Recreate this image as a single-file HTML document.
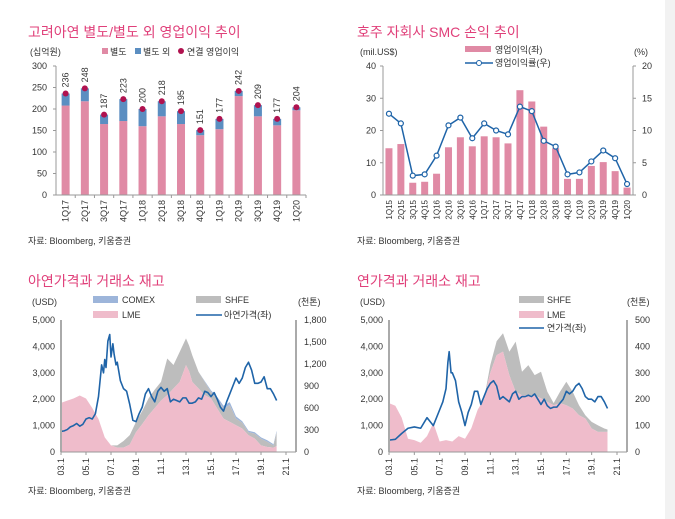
<!DOCTYPE html>
<html><head><meta charset="utf-8">
<style>
body{margin:0;background:#fff;width:675px;height:519px;overflow:hidden;font-family:"Liberation Sans","Noto Sans CJK KR",sans-serif;}
svg{position:absolute;left:0;top:0}
text{font-family:"Liberation Sans","Noto Sans CJK KR",sans-serif;fill:#333}
</style></head>
<body>
<svg id="s" width="675" height="519" xmlns="http://www.w3.org/2000/svg">
<rect x="0" y="0" width="675" height="519" fill="#fff"/>
<rect x="665" y="0" width="10" height="519" fill="#f2f2f2"/>
<text x="28" y="37" font-size="14" style="fill:#e0407a">고려아연 별도/별도 외 영업이익 추이</text>
<text x="357" y="37" font-size="14" style="fill:#e0407a">호주 자회사 SMC 손익 추이</text>
<text x="28" y="286" font-size="14" style="fill:#e0407a">아연가격과 거래소 재고</text>
<text x="357" y="286" font-size="14" style="fill:#e0407a">연가격과 거래소 재고</text>
<text x="28" y="244" font-size="9">자료: Bloomberg, 키움증권</text>
<text x="357" y="244" font-size="9">자료: Bloomberg, 키움증권</text>
<text x="28" y="494" font-size="9">자료: Bloomberg, 키움증권</text>
<text x="357" y="494" font-size="9">자료: Bloomberg, 키움증권</text>
</svg>
<script>
// ---- Chart 1 data
const c1Cats=["1Q17","2Q17","3Q17","4Q17","1Q18","2Q18","3Q18","4Q18","1Q19","2Q19","3Q19","4Q19","1Q20"];
const c1Sep=[208,218,165,172,160,183,165,139,153,230,183,162,197];
const c1Other=[28,30,22,51,40,35,30,12,24,12,26,15,7];
const c1Total=[236,248,187,223,200,218,195,151,177,242,209,177,204];
const c1Ticks=[0,50,100,150,200,250,300];
// ---- Chart 2 data
const c2Cats=["1Q15","2Q15","3Q15","4Q15","1Q16","2Q16","3Q16","4Q16","1Q17","2Q17","3Q17","4Q17","1Q18","2Q18","3Q18","4Q18","1Q19","2Q19","3Q19","4Q19","1Q20"];
const c2Profit=[14.5,15.8,3.8,4.1,6.6,14.8,17.9,15.1,18.2,17.9,16.0,32.5,29.0,21.2,14.5,5.0,5.0,9.0,10.2,7.4,2.3];
const c2Margin=[12.6,11.1,3.0,3.2,6.1,10.8,12.0,8.8,11.1,10.0,9.4,13.7,13.0,8.4,7.5,3.2,3.5,5.2,6.9,5.7,1.7];
const c2LTicks=[0,10,20,30,40];
const c2RTicks=[0,5,10,15,20];
// ---- Chart 3 data (zinc)
const c3PriceT=[2003,2003.25,2003.5,2003.75,2004,2004.25,2004.5,2004.75,2005,2005.25,2005.5,2005.75,2006,2006.25,2006.4,2006.5,2006.6,2006.75,2006.9,2007,2007.15,2007.25,2007.4,2007.5,2007.75,2008,2008.25,2008.5,2008.75,2009,2009.25,2009.5,2009.75,2010,2010.25,2010.5,2010.75,2011,2011.25,2011.5,2011.75,2012,2012.25,2012.5,2012.75,2013,2013.25,2013.5,2013.75,2014,2014.25,2014.5,2014.75,2015,2015.25,2015.5,2015.75,2016,2016.25,2016.5,2016.75,2017,2017.25,2017.5,2017.75,2018,2018.25,2018.5,2018.75,2019,2019.25,2019.5,2019.75,2020,2020.25];
const c3Price=[780,800,850,950,1000,1080,980,1050,1250,1300,1250,1450,2100,3300,3000,3500,3200,4200,4450,3600,4100,3700,3300,3400,2700,2400,2300,1800,1200,1150,1450,1700,2200,2400,2100,1900,2300,2450,2300,2400,1900,2000,1950,1900,2050,2050,1850,1850,1900,2050,2000,2300,2250,2100,2250,2000,1700,1550,1900,2200,2500,2800,2600,2800,3200,3400,3100,2600,2600,2650,2850,2400,2400,2200,1950];
const c3InvT=[2003,2003.5,2004,2004.5,2005,2005.5,2006,2006.5,2007,2007.5,2008,2008.5,2009,2009.5,2010,2010.5,2011,2011.5,2012,2012.5,2013,2013.25,2013.5,2014,2014.5,2015,2015.5,2016,2016.5,2017,2017.5,2018,2018.5,2019,2019.5,2020,2020.25];
const c3LME=[670,700,730,770,730,600,450,200,90,60,60,100,270,380,500,600,700,775,866,957,1185,1100,957,866,775,730,592,455,410,365,320,228,182,91,68,60,80];
const c3SHFE=[0,0,0,0,0,0,0,0,0,30,90,130,140,180,230,250,257,500,320,410,365,350,363,228,182,90,128,135,230,90,80,42,68,89,72,30,190];
const c3COMEX=[0,0,0,0,0,0,0,0,0,0,0,0,0,0,0,0,0,0,0,0,0,0,0,0,10,20,30,40,40,30,20,20,20,20,20,15,20];
const c3LTicks=[0,1000,2000,3000,4000,5000];
const c3RTicks=[0,300,600,900,1200,1500,1800];
const xTickLabels=["03.1","05.1","07.1","09.1","11.1","13.1","15.1","17.1","19.1","21.1"];
const xTickYears=[2003,2005,2007,2009,2011,2013,2015,2017,2019,2021];
// ---- Chart 4 data (lead)
const c4PriceT=[2003,2003.5,2004,2004.5,2005,2005.5,2006,2006.5,2007,2007.25,2007.5,2007.65,2007.75,2007.9,2008,2008.25,2008.5,2008.75,2009,2009.25,2009.5,2009.75,2010,2010.25,2010.5,2010.75,2011,2011.25,2011.5,2011.75,2012,2012.25,2012.5,2012.75,2013,2013.25,2013.5,2013.75,2014,2014.25,2014.5,2014.75,2015,2015.25,2015.5,2015.75,2016,2016.25,2016.5,2016.75,2017,2017.25,2017.5,2017.75,2018,2018.25,2018.5,2018.75,2019,2019.25,2019.5,2019.75,2020,2020.25];
const c4Price=[450,480,700,900,950,900,1300,1000,1600,1900,2400,3400,3800,3000,3000,2700,1900,1500,1000,1500,1800,2300,2300,1800,2100,2400,2600,2700,2500,2000,2100,2000,1900,2200,2300,2000,2100,2100,2150,2100,2200,2000,1800,2000,1750,1650,1700,1700,1850,2000,2300,2200,2300,2500,2600,2400,2100,2000,2000,1900,2100,2100,1900,1650];
const c4InvT=[2003,2003.5,2004,2004.5,2005,2005.5,2006,2006.5,2007,2007.5,2008,2008.5,2009,2009.5,2010,2010.5,2011,2011.5,2012,2012.5,2013,2013.5,2014,2014.5,2015,2015.5,2016,2016.5,2017,2017.5,2018,2018.5,2019,2019.5,2020,2020.25];
const c4LME=[185,175,130,50,45,35,60,110,40,45,40,60,50,90,160,200,300,367,380,291,228,215,215,215,203,190,177,185,177,165,139,127,89,76,76,76];
const c4SHFE=[0,0,0,0,0,0,0,0,0,0,0,0,0,0,0,0,30,53,70,89,190,89,114,76,101,38,8,43,89,63,38,12,25,25,13,9];
const c4LTicks=[0,1000,2000,3000,4000,5000];
const c4RTicks=[0,100,200,300,400,500];

const NS="http://www.w3.org/2000/svg";
const svg=document.getElementById('s');
function el(tag,attrs,parent){const e=document.createElementNS(NS,tag);for(const k in attrs)e.setAttribute(k,attrs[k]);(parent||svg).appendChild(e);return e;}
function txt(x,y,s,size,anchor,extra){const t=el('text',Object.assign({x:x,y:y,'font-size':size,'text-anchor':anchor||'start'},extra||{}));t.textContent=s;return t;}

// ========== Chart 1
(function(){
const x0=56,x1=306,yTop=66,yBot=195,n=c1Cats.length,step=(x1-x0)/n;
const y=v=>yBot-(v/300)*(yBot-yTop);
const xc=i=>x0+step*(i+0.5);
const g=el('g',{});


c1Ticks.forEach(v=>{const t=txt(47,y(v)+3,String(v),9,'end');
 el('line',{x1:x0-3,x2:x0,y1:y(v),y2:y(v),stroke:'#999'},g);});
c1Cats.forEach((c,i)=>{
 const bw=8,x=xc(i)-bw/2;
 const b1=el('rect',{x:x,y:y(c1Sep[i]),width:bw,height:yBot-y(c1Sep[i]),fill:'#e08aa5'},g);
 
 
 const b2=el('rect',{x:x,y:y(c1Sep[i]+c1Other[i]),width:bw,height:y(c1Sep[i])-y(c1Sep[i]+c1Other[i]),fill:'#5b8ec1'},g);
 
 
 const d=el('circle',{cx:xc(i),cy:y(c1Total[i]),r:3,fill:'#b0124f'},g);
 
 
 const lx=xc(i)+3,ly=y(c1Total[i])-6;
 const vl=txt(lx,ly,String(c1Total[i]),9,'start',{transform:`rotate(-90 ${lx} ${ly})`});
 
 
 const cx=xc(i)+3,cy=200;
 const cl=txt(cx,cy,c,9,'end',{transform:`rotate(-90 ${cx} ${cy})`});
 
 
 el('line',{x1:x0+step*(i+1),x2:x0+step*(i+1),y1:yBot,y2:yBot+3,stroke:'#999'},g);
});
el('line',{x1:x0,x2:x0,y1:yTop,y2:yBot,stroke:'#999'},g);
el('line',{x1:x0,x2:x1,y1:yBot,y2:yBot,stroke:'#999'},g);
txt(30,55,'(십억원)',9);
el('rect',{x:102,y:48,width:6,height:6,fill:'#e08aa5'});txt(110,55,'별도',9);
el('rect',{x:135,y:48,width:6,height:6,fill:'#5b8ec1'});txt(143,55,'별도 외',9);
el('circle',{cx:181,cy:51,r:3,fill:'#b0124f'});txt(187,55,'연결 영업이익',9);
})();

// ========== Chart 2
(function(){
const x0=383,x1=633,yTop=66,yBot=195,n=c2Cats.length,step=(x1-x0)/n;
const yl=v=>yBot-(v/40)*(yBot-yTop), yr=v=>yBot-(v/20)*(yBot-yTop);
const xc=i=>x0+step*(i+0.5);
const g=el('g',{});


c2LTicks.forEach(v=>{txt(376,yl(v)+3,String(v),9,'end');el('line',{x1:x0-3,x2:x0,y1:yl(v),y2:yl(v),stroke:'#999'},g);});
c2RTicks.forEach(v=>{txt(642,yr(v)+3,String(v),9,'start');el('line',{x1:x1,x2:x1+3,y1:yr(v),y2:yr(v),stroke:'#999'},g);});
c2Cats.forEach((c,i)=>{
 const b=el('rect',{x:xc(i)-3.5,y:yl(c2Profit[i]),width:7,height:yBot-yl(c2Profit[i]),fill:'#e08aa5'},g);
 
 
 const cx=xc(i)+3,cy=200;
 const cl=txt(cx,cy,c,8,'end',{transform:`rotate(-90 ${cx} ${cy})`});
 
 
});
const pts=c2Margin.map((v,i)=>xc(i)+','+yr(v)).join(' ');
const pl=el('polyline',{points:pts,fill:'none',stroke:'#1f64a8','stroke-width':1.5},g);


c2Margin.forEach((v,i)=>{const p=el('circle',{cx:xc(i),cy:yr(v),r:2.5,fill:'#fff',stroke:'#1f64a8','stroke-width':1.2},g);
 
 });
el('line',{x1:x0,x2:x0,y1:yTop,y2:yBot,stroke:'#999'},g);
el('line',{x1:x1,x2:x1,y1:yTop,y2:yBot,stroke:'#999'},g);
el('line',{x1:x0,x2:x1,y1:yBot,y2:yBot,stroke:'#999'},g);
txt(360,55,'(mil.US$)',9);txt(634,55,'(%)',9);
el('rect',{x:465,y:46,width:26,height:6,fill:'#e08aa5'});txt(495,53,'영업이익(좌)',9);
el('line',{x1:465,x2:493,y1:63,y2:63,stroke:'#1f64a8','stroke-width':1.5});
el('circle',{cx:479,cy:63,r:2.5,fill:'#fff',stroke:'#1f64a8'});txt(495,66,'영업이익률(우)',9);
})();

// ========== time-series helper
function tsChart(o){
 const {x0,x1,yTop,yBot,lMax,rMax,name}=o;
 const xt=t=>x0+(t-2003)/18*(x1-x0);
 const yl=v=>yBot-v/lMax*(yBot-yTop), yr=v=>yBot-v/rMax*(yBot-yTop);
 const g=el('g',{});
 
 
 function area(lower,upper,fill,nm){
  let d='M'+o.invT.map((t,i)=>xt(t)+','+yr(upper[i])).join(' L');
  for(let i=o.invT.length-1;i>=0;i--)d+=' L'+xt(o.invT[i])+','+yr(lower[i]);
  const p=el('path',{d:d+'Z',fill:fill},g);
  
  
 }
 const z=o.invT.map(()=>0);
 const s1=o.lme, s2=o.lme.map((v,i)=>v+o.shfe[i]), s3=s2.map((v,i)=>v+(o.comex?o.comex[i]:0));
 if(o.comex)area(s2,s3,'#9db5da','comex-area');
 area(s1,s2,'#bdbdbd','shfe-area');
 area(z,s1,'#efbccb','lme-area');
 const pl=el('polyline',{points:o.priceT.map((t,i)=>xt(t)+','+yl(o.price[i])).join(' '),fill:'none',stroke:'#1f64a8','stroke-width':1.6,'stroke-linejoin':'round'},g);
 
 
 el('line',{x1:x0,x2:x0,y1:yTop,y2:yBot,stroke:'#aaa','stroke-width':2},g);
 el('line',{x1:x1+10,x2:x1+10,y1:yTop,y2:yBot,stroke:'#aaa','stroke-width':2},g);
 el('line',{x1:x0,x2:x1+10,y1:yBot,y2:yBot,stroke:'#999'},g);
 o.lTicks.forEach(v=>{txt(x0-6,yl(v)+3,v.toLocaleString('en-US'),9,'end');});
 o.rTicks.forEach(v=>{txt(x1+18,yr(v)+3,v.toLocaleString('en-US'),9,'start');});
 xTickYears.forEach((yr_,i)=>{const x=xt(yr_);el('line',{x1:x,x2:x,y1:yBot,y2:yBot+3,stroke:'#999'},g);
  const t=txt(x+3,yBot+6,xTickLabels[i],9,'end',{transform:`rotate(-90 ${x+3} ${yBot+6})`});
  
  });
}
tsChart({name:'chart3',x0:61,x1:286,yTop:320,yBot:452,lMax:5000,rMax:1800,priceT:c3PriceT,price:c3Price,invT:c3InvT,lme:c3LME,shfe:c3SHFE,comex:c3COMEX,lTicks:c3LTicks,rTicks:c3RTicks});
tsChart({name:'chart4',x0:389,x1:617,yTop:320,yBot:452,lMax:5000,rMax:500,priceT:c4PriceT,price:c4Price,invT:c4InvT,lme:c4LME,shfe:c4SHFE,comex:null,lTicks:c4LTicks,rTicks:c4RTicks});
// legends chart3
txt(32,305,'(USD)',9);txt(298,305,'(천톤)',9);
el('rect',{x:93,y:296,width:25,height:7,fill:'#9db5da'});txt(122,303,'COMEX',9);
el('rect',{x:196,y:296,width:25,height:7,fill:'#bdbdbd'});txt(225,303,'SHFE',9);
el('rect',{x:93,y:311,width:25,height:7,fill:'#efbccb'});txt(122,318,'LME',9);
el('line',{x1:196,x2:222,y1:315,y2:315,stroke:'#1f64a8','stroke-width':1.6});txt(224,318,'아연가격(좌)',9);
// legends chart4
txt(360,305,'(USD)',9);txt(627,305,'(천톤)',9);
el('rect',{x:519,y:296,width:25,height:7,fill:'#bdbdbd'});txt(547,303,'SHFE',9);
el('rect',{x:519,y:311,width:25,height:7,fill:'#efbccb'});txt(547,318,'LME',9);
el('line',{x1:519,x2:544,y1:328,y2:328,stroke:'#1f64a8','stroke-width':1.6});txt(547,331,'연가격(좌)',9);
</script>
</body></html>
